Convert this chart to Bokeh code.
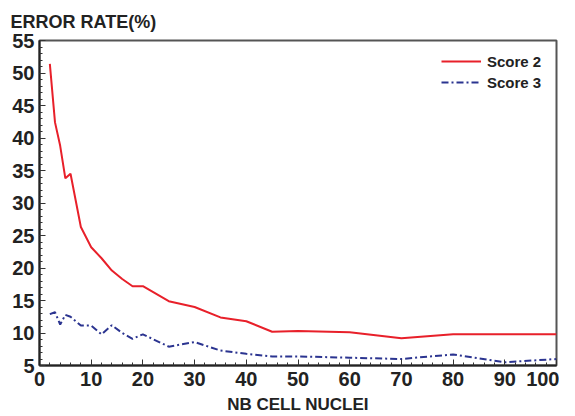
from bokeh.plotting import figure
from bokeh.embed import file_html
from bokeh.resources import INLINE
from bokeh.models import Range1d, FixedTicker, Legend, LegendItem, Title

nuclei_s2 = [2, 3, 4, 5, 6, 8, 10, 12, 14, 16, 18, 20, 25, 30, 35, 40, 45, 50, 60, 70, 80, 90, 100]
score2 = [51.4, 42.4, 38.8, 33.8, 34.5, 26.3, 23.2, 21.5, 19.6, 18.3, 17.2, 17.2, 14.9, 14.0, 12.4, 11.8, 10.2, 10.3, 10.1, 9.2, 9.8, 9.8, 9.8]
nuclei_s3 = [2, 3, 4, 5, 6, 8, 10, 12, 14, 16, 18, 20, 25, 30, 35, 40, 45, 50, 60, 70, 80, 90, 100]
score3 = [12.9, 13.2, 11.3, 12.8, 12.5, 11.15, 11.15, 9.8, 11.2, 10.0, 9.1, 9.8, 7.9, 8.6, 7.3, 6.8, 6.4, 6.4, 6.2, 6.0, 6.7, 5.5, 6.0]
x_ticks = [0, 10, 20, 30, 40, 50, 60, 70, 80, 90, 100]
y_ticks = [5, 10, 15, 20, 25, 30, 35, 40, 45, 50, 55]

FONT = "Liberation Sans"
TXT = "#222222"

p = figure(frame_width=517, frame_height=325, output_backend="svg", toolbar_location=None,
           x_range=Range1d(0, 100), y_range=Range1d(5, 55),
           min_border_left=39, min_border_right=3, min_border_top=39, min_border_bottom=36)
p.title.visible = False
t = Title(text="ERROR RATE(%)", align="left", offset=-29, text_font=FONT,
          text_font_size="18px", text_font_style="bold", text_color=TXT, standoff=18)
p.add_layout(t, "above")

p.grid.visible = False
p.outline_line_color = "#555555"
p.outline_line_width = 2
p.background_fill_color = "white"
p.border_fill_color = "white"

for ax in (p.xaxis[0], p.yaxis[0]):
    ax.axis_line_width = 2
    ax.axis_line_color = "#222222"
    ax.major_tick_in = 6
    ax.major_tick_out = 0
    ax.minor_tick_in = 3
    ax.minor_tick_out = 0
    ax.major_tick_line_color = "#333333"
    ax.minor_tick_line_color = "#333333"
    ax.major_label_text_font = FONT
    ax.major_label_text_font_size = "20px"
    ax.major_label_text_font_style = "bold"
    ax.major_label_text_color = TXT

p.xaxis[0].ticker = FixedTicker(ticks=x_ticks, minor_ticks=list(range(0, 101, 2)))
p.yaxis[0].ticker = FixedTicker(ticks=y_ticks, minor_ticks=list(range(5, 56, 1)))
p.xaxis[0].major_label_standoff = 6
p.yaxis[0].major_label_standoff = 5
p.xaxis[0].axis_label = "NB CELL NUCLEI"
p.xaxis[0].axis_label_text_font = FONT
p.xaxis[0].axis_label_text_font_size = "17px"
p.xaxis[0].axis_label_text_font_style = "bold"
p.xaxis[0].axis_label_text_color = TXT
p.xaxis[0].axis_label_standoff = 6

r2 = p.line(nuclei_s2, score2, line_color="#e8202a", line_width=2)
r3 = p.line(nuclei_s3, score3, line_color="#2b3490", line_width=2, line_dash="7 3 2 3")

legend = Legend(items=[LegendItem(label="Score 2", renderers=[r2]),
                       LegendItem(label="Score 3", renderers=[r3])],
                location="top_right", border_line_color=None,
                background_fill_alpha=0, label_text_font=FONT,
                label_text_font_size="15px", label_text_font_style="bold",
                label_text_color=TXT, glyph_width=40, spacing=1, label_width=58,
                label_standoff=6, padding=6, margin=11)
p.add_layout(legend)

open("out.html", "w").write(file_html(p, INLINE))
